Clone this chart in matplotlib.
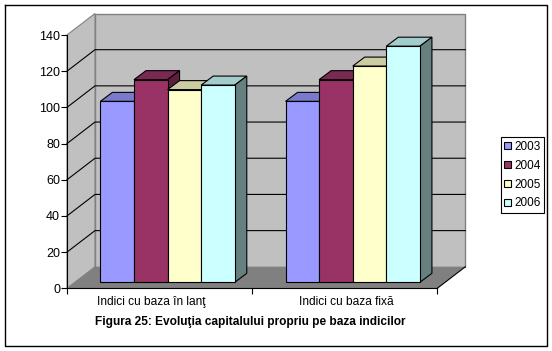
import matplotlib
matplotlib.use("Agg")
import matplotlib.pyplot as plt
from matplotlib.patches import Polygon

categories = ["Indici cu baza în lanţ", "Indici cu baza fixă"]
years = ["2003", "2004", "2005", "2006"]
values_2003 = [100, 100]
values_2004 = [112, 112]
values_2005 = [106.5, 119.5]
values_2006 = [109, 130.5]
yticks = [0, 20, 40, 60, 80, 100, 120, 140]
title = "Figura 25: Evoluţia capitalului propriu pe baza indicilor"

front = ["#9999FF", "#993366", "#FFFFCC", "#CCFFFF"]
top = ["#7A7ACC", "#7A2952", "#CCCCA3", "#A3CCCC"]
side = ["#5C5C99", "#5C1F3D", "#99997A", "#668080"]

W, H = 552, 351
plt.rcParams["font.family"] = ["Liberation Sans", "DejaVu Sans"]
fig = plt.figure(figsize=(W / 100, H / 100), dpi=100)

# front plane of the 3d box, in pixels from the top left
left, right, y0, y140 = 67, 437.3, 288.3, 35
ax = fig.add_axes([left / W, 1 - y0 / H, (right - left) / W, (y0 - y140) / H])
ax.set_xlim(0, 2)
ax.set_ylim(0, 140)
ax.patch.set_visible(False)
for s in ax.spines.values():
    s.set_visible(False)

px_x = 2 / (right - left)
px_y = 140 / (y0 - y140)
wall_dx, wall_dy = 28 * px_x, 21.5 * px_y
bar_dx, bar_dy = 12 * px_x, 9 * px_y
shift_dx, shift_dy = 8 * px_x, 6 * px_y
bar_w = 33.6 * px_x
lw = 0.8


def poly(pts, fc, ec="none", lw=0.0, z=1):
    ax.add_patch(Polygon(pts, closed=True, fc=fc, ec=ec, lw=lw, zorder=z, clip_on=False))


# walls and floor
poly([(wall_dx, wall_dy), (2 + wall_dx, wall_dy), (2 + wall_dx, 140 + wall_dy), (wall_dx, 140 + wall_dy)],
     "#C0C0C0", "#808080", 1.0)
poly([(0, 0), (wall_dx, wall_dy), (wall_dx, 140 + wall_dy), (0, 140)], "#C0C0C0", "#808080", 0.8)
poly([(0, 0), (2, 0), (2 + wall_dx, wall_dy), (wall_dx, wall_dy)], "#808080")

# grid
for t in yticks[1:-1]:
    ax.plot([0, wall_dx, 2 + wall_dx], [t, t + wall_dy, t + wall_dy], color="black", lw=lw,
            zorder=2, clip_on=False, solid_joinstyle="miter")
ax.plot([0, 2], [0, 0], color="black", lw=lw, zorder=2, clip_on=False)
ax.plot([2, 2 + wall_dx], [0, wall_dy], color="black", lw=lw, zorder=2, clip_on=False)

# bars
series = [values_2003, values_2004, values_2005, values_2006]
offset = (1 - 4 * bar_w) / 2
handles = []
for i, vals in enumerate(series):
    for c, v in enumerate(vals):
        x0 = c + offset + i * bar_w + shift_dx
        x1 = x0 + bar_w
        b = shift_dy
        t = v + shift_dy
        z = 4 + i + c * 10
        poly([(x0, t), (x1, t), (x1 + bar_dx, t + bar_dy), (x0 + bar_dx, t + bar_dy)], top[i], "black", lw, z)
        poly([(x1, b), (x1 + bar_dx, b + bar_dy), (x1 + bar_dx, t + bar_dy), (x1, t)], side[i], "black", lw, z)
        poly([(x0, b), (x1, b), (x1, t), (x0, t)], front[i], "black", lw, z)
    handles.append(plt.Rectangle((0, 0), 1, 1, fc=front[i], ec="black", lw=lw))

# axes ticks and labels
ax.set_yticks(yticks)
ax.set_xticks([0, 1, 2])
ax.set_xticklabels([])
ax.tick_params(axis="y", length=4, width=lw, pad=1, labelsize=9)
ax.tick_params(axis="x", length=4, width=lw)
ax.plot([0, 0], [0, 140], color="black", lw=lw, zorder=3, clip_on=False)
for c, (name, nudge) in enumerate(zip(categories, [-0.044, 0.007])):
    ax.text(c + 0.5 + nudge, -7.6, name, ha="center", va="center", fontsize=8.6, clip_on=False)

fig.text(250 / W, 1 - 322 / H, title, ha="center", va="center", fontsize=8.6, fontweight="bold")

leg = fig.legend(handles, years, loc="upper left", bbox_to_anchor=(500.7 / W, 1 - 137.3 / H),
                 fontsize=8.5, frameon=True, fancybox=False, edgecolor="black", framealpha=1,
                 handlelength=0.55, handleheight=0.55, handletextpad=0.3, labelspacing=0.58,
                 borderpad=0.3, borderaxespad=0)
leg.get_frame().set_linewidth(lw)

# frame of the picture
fx0, fx1, fy0, fy1 = 4.5 / W, 547 / W, 1 - 4.5 / H, 1 - 346 / H
fig.add_artist(plt.Line2D([fx0, fx1, fx1, fx0, fx0], [fy0, fy0, fy1, fy1, fy0], color="black", lw=1.0))

fig.savefig("out.png", dpi=100)
